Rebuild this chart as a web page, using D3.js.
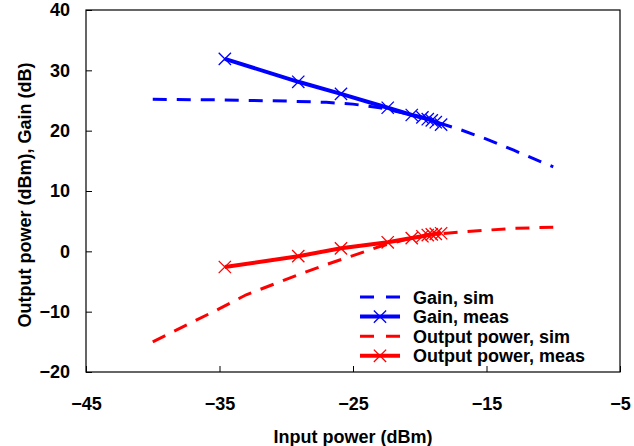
<!DOCTYPE html>
<html>
<head>
<meta charset="utf-8">
<script src="https://cdn.jsdelivr.net/npm/d3@7"></script>
<style>
  body { margin: 0; background: #fff; }
  text { font-family: "Liberation Sans", Arial, sans-serif; font-weight: bold; }
</style>
</head>
<body>
<div id="chart"></div>
<script>
// values
var gainSimX = [-40, -35, -30, -27, -25, -23, -21, -19, -17, -15, -13, -11, -10];
var gainSimY = [25.2, 25.1, 24.9, 24.7, 24.4, 23.8, 22.8, 21.6, 20.2, 18.6, 16.8, 14.9, 14.0];

var measX = [-34.6, -29.1, -25.9, -22.4, -20.6, -19.8, -19.4, -19.1, -18.8, -18.4];
var gainMeasY = [31.9, 28.1, 26.1, 23.8, 22.6, 22.2, 21.9, 21.7, 21.4, 21.0];
var outMeasY = [-2.6, -0.8, 0.5, 1.5, 2.2, 2.5, 2.7, 2.8, 2.9, 3.0];

var outSimX = [-40, -37, -35, -33, -31, -29, -27, -25, -23, -21, -19, -17, -15, -13, -10];
var outSimY = [-15.0, -11.7, -9.5, -7.2, -5.5, -3.8, -2.2, -0.7, 0.8, 2.0, 2.8, 3.2, 3.5, 3.8, 4.0];

var xTicks = [-45, -35, -25, -15, -5];
var yTicks = [-20, -10, 0, 10, 20, 30, 40];

var legendNames = ["Gain, sim", "Gain, meas", "Output power, sim", "Output power, meas"];

var width = 634, height = 446;
var margin = {left: 86, right: 14, top: 10, bottom: 74};
var fontSize = 18;

var svg = d3.select("#chart").append("svg")
    .attr("width", width)
    .attr("height", height);

var x = d3.scaleLinear().domain([-45, -5]).range([margin.left, width - margin.right]);
var y = d3.scaleLinear().domain([-20, 40]).range([height - margin.bottom, margin.top]);

function pairs(xs, ys) { return xs.map(function(v, i) { return [v, ys[i]]; }); }

var line = d3.line().x(function(d) { return x(d[0]); }).y(function(d) { return y(d[1]); });

// plot box
svg.append("rect")
    .attr("x", x(-45)).attr("y", y(40))
    .attr("width", x(-5) - x(-45)).attr("height", y(-20) - y(40))
    .attr("fill", "none").attr("stroke", "#000").attr("stroke-width", 1.2);

// axes with inward ticks
var xAxis = svg.append("g")
    .attr("transform", "translate(0," + y(-20) + ")")
    .call(d3.axisBottom(x).tickValues(xTicks).tickSizeInner(-6).tickSizeOuter(0).tickPadding(25));
var yAxis = svg.append("g")
    .attr("transform", "translate(" + x(-45) + ",0)")
    .call(d3.axisLeft(y).tickValues(yTicks).tickSizeInner(-6).tickSizeOuter(0).tickPadding(16));

[xAxis, yAxis].forEach(function(a) {
  a.select(".domain").remove();
  a.selectAll("line").attr("stroke", "#000").attr("stroke-width", 1);
  a.selectAll("text").attr("font-size", fontSize).attr("fill", "#000")
    .style("font-family", "'Liberation Sans', Arial, sans-serif").style("font-weight", "bold");
});

var series = [
  {data: pairs(gainSimX, gainSimY), color: "#0000ff", dash: "14,10", width: 3, marks: false},
  {data: pairs(measX, gainMeasY), color: "#0000ff", dash: null, width: 4, marks: true},
  {data: pairs(outSimX, outSimY), color: "#ff0000", dash: "14,10", width: 3, marks: false},
  {data: pairs(measX, outMeasY), color: "#ff0000", dash: null, width: 4, marks: true}
];

var cross = d3.symbol().type(d3.symbolTimes).size(100);

series.forEach(function(s) {
  svg.append("path")
      .datum(s.data)
      .attr("d", line)
      .attr("fill", "none")
      .attr("stroke", s.color)
      .attr("stroke-width", s.width)
      .attr("stroke-dasharray", s.dash);
  if (s.marks) {
    svg.selectAll(null).data(s.data).enter().append("path")
        .attr("transform", function(d) { return "translate(" + x(d[0]) + "," + y(d[1]) + ")"; })
        .attr("d", cross)
        .attr("fill", "none")
        .attr("stroke", s.color)
        .attr("stroke-width", 1.3);
  }
});

// legend
var legend = svg.append("g").attr("transform", "translate(360,297)");
series.forEach(function(s, i) {
  var row = legend.append("g").attr("transform", "translate(0," + (i * 19.6) + ")");
  row.append("line")
      .attr("x1", 0).attr("x2", 40)
      .attr("stroke", s.color).attr("stroke-width", s.width)
      .attr("stroke-dasharray", s.dash ? "14,12" : null);
  if (s.marks) {
    row.append("path").attr("transform", "translate(20,0)").attr("d", cross)
        .attr("fill", "none").attr("stroke", s.color).attr("stroke-width", 1.3);
  }
  row.append("text").attr("x", 53).attr("y", 6.5)
      .attr("font-size", fontSize).text(legendNames[i]);
});

// axis titles
svg.append("text")
    .attr("x", (x(-45) + x(-5)) / 2).attr("y", 443)
    .attr("text-anchor", "middle").attr("font-size", fontSize)
    .text("Input power (dBm)");
svg.append("text")
    .attr("transform", "translate(31,195) rotate(-90)")
    .attr("text-anchor", "middle").attr("font-size", fontSize)
    .text("Output power (dBm), Gain (dB)");
</script>
</body>
</html>
